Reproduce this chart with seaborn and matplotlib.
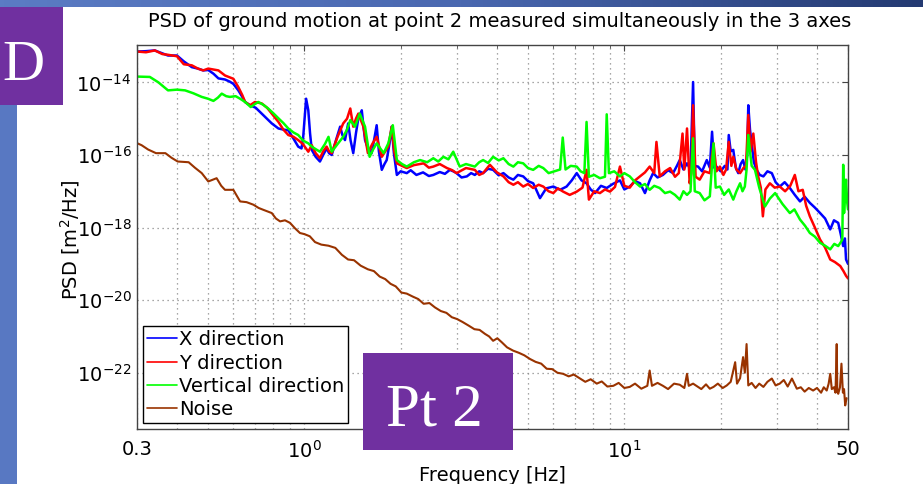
import numpy as np
import pandas as pd
import matplotlib
matplotlib.use("Agg")
import matplotlib.pyplot as plt
import matplotlib.ticker as mticker
from matplotlib.patches import Rectangle
from matplotlib.colors import LinearSegmentedColormap
from matplotlib.lines import Line2D
import seaborn as sns

# ---------------- data (frequency [Hz], log10 PSD [m^2/Hz]) ----------------
x_points = [(0.300,-13.15),(0.320,-13.14),(0.341,-13.12),(0.360,-13.20),(0.375,-13.26),(0.400,-13.26),(0.420,-13.42),(0.445,-13.58),(0.465,-13.62),(0.483,-13.67),(0.501,-13.66),(0.520,-13.76),(0.539,-13.89),(0.565,-13.92),(0.585,-13.98),(0.600,-14.04),(0.622,-14.22),(0.640,-14.40),(0.653,-14.54),(0.677,-14.63),(0.705,-14.70),(0.736,-14.86),(0.765,-15.00),(0.791,-15.13),(0.830,-15.27),(0.860,-15.30),(0.891,-15.32),(0.925,-15.55),(0.957,-15.77),(0.980,-15.82),(0.992,-15.50),(1.013,-14.45),(1.029,-14.77),(1.042,-15.40),(1.055,-15.86),(1.085,-16.05),(1.119,-16.18),(1.145,-16.00),(1.174,-15.82),(1.195,-15.95),(1.218,-16.00),(1.255,-15.60),(1.294,-15.22),(1.315,-15.45),(1.340,-15.59),(1.371,-15.13),(1.395,-15.60),(1.422,-15.95),(1.450,-15.40),(1.475,-14.99),(1.512,-14.77),(1.530,-15.20),(1.548,-15.59),(1.585,-15.85),(1.623,-15.95),(1.655,-15.55),(1.683,-15.18),(1.710,-15.90),(1.746,-16.41),(1.780,-16.25),(1.809,-16.14),(1.845,-15.70),(1.875,-15.22),(1.905,-15.95),(1.946,-16.55),(2.00,-16.45),(2.09,-16.50),(2.15,-16.42),(2.24,-16.55),(2.35,-16.48),(2.45,-16.58),(2.53,-16.55),(2.65,-16.47),(2.75,-16.52),(2.85,-16.41),(2.92,-16.45),(2.99,-16.50),(3.10,-16.62),(3.22,-16.59),(3.32,-16.50),(3.41,-16.55),(3.52,-16.45),(3.62,-16.50),(3.75,-16.38),(3.89,-16.41),(4.05,-16.56),(4.19,-16.50),(4.35,-16.62),(4.50,-16.68),(4.65,-16.55),(4.83,-16.59),(5.00,-16.72),(5.19,-16.78),(5.30,-16.95),(5.45,-17.19),(5.70,-16.92),(6.00,-16.87),(6.30,-16.96),(6.60,-16.87),(6.85,-16.70),(7.10,-16.50),(7.35,-16.70),(7.62,-16.78),(7.85,-16.95),(8.10,-17.05),(8.45,-16.85),(8.81,-16.91),(9.20,-16.80),(9.69,-16.70),(10.0,-16.95),(10.4,-16.87),(10.8,-16.72),(11.2,-16.78),(11.6,-17.05),(12.0,-16.70),(12.3,-16.50),(12.7,-16.62),(13.2,-16.55),(13.7,-16.42),(14.2,-16.50),(14.6,-16.30),(14.9,-16.14),(15.3,-16.40),(15.7,-16.23),(16.1,-16.40),(16.4,-13.99),(16.6,-16.30),(17.0,-16.32),(17.5,-16.45),(18.1,-16.14),(18.5,-16.35),(18.8,-15.36),(19.1,-16.35),(19.4,-16.32),(20.0,-16.45),(20.6,-16.30),(21.0,-16.40),(21.2,-15.45),(21.5,-15.90),(21.9,-15.86),(22.3,-16.35),(22.7,-16.50),(23.1,-16.25),(23.5,-16.14),(23.9,-16.40),(24.2,-16.00),(24.4,-14.63),(24.7,-15.30),(25.0,-15.68),(25.4,-16.20),(25.9,-16.41),(26.5,-16.55),(27.2,-16.59),(28.0,-16.45),(28.9,-16.50),(29.7,-16.75),(30.6,-16.87),(31.7,-16.75),(32.9,-16.91),(34.1,-17.10),(35.4,-17.28),(36.6,-17.15),(38.0,-17.32),(39.4,-17.45),(40.9,-17.60),(42.4,-17.75),(44.0,-18.05),(45.2,-17.80),(46.6,-17.87),(47.5,-18.20),(48.3,-18.51),(48.9,-18.30),(49.3,-18.88),(50.0,-19.00)]

y_points = [(0.300,-13.15),(0.320,-13.17),(0.341,-13.12),(0.360,-13.22),(0.375,-13.24),(0.400,-13.28),(0.420,-13.50),(0.445,-13.53),(0.465,-13.62),(0.483,-13.67),(0.501,-13.62),(0.539,-13.67),(0.565,-13.81),(0.600,-13.90),(0.622,-14.13),(0.640,-14.35),(0.653,-14.54),(0.677,-14.63),(0.701,-14.54),(0.736,-14.58),(0.765,-14.70),(0.791,-14.86),(0.830,-15.09),(0.860,-15.30),(0.891,-15.45),(0.925,-15.50),(0.957,-15.59),(0.990,-15.70),(1.029,-15.91),(1.055,-15.73),(1.085,-15.95),(1.119,-16.09),(1.145,-15.90),(1.174,-15.77),(1.195,-15.90),(1.218,-15.95),(1.270,-15.50),(1.323,-15.13),(1.360,-15.00),(1.392,-14.72),(1.422,-15.22),(1.450,-15.00),(1.475,-14.86),(1.530,-15.22),(1.580,-15.95),(1.630,-15.70),(1.683,-15.50),(1.746,-16.05),(1.790,-15.90),(1.830,-15.77),(1.875,-15.22),(1.910,-15.90),(1.946,-16.23),(2.02,-16.30),(2.09,-16.36),(2.20,-16.28),(2.36,-16.23),(2.45,-16.35),(2.53,-16.32),(2.65,-16.25),(2.79,-16.36),(2.90,-16.42),(2.99,-16.50),(3.20,-16.36),(3.41,-16.41),(3.52,-16.55),(3.62,-16.50),(3.80,-16.27),(4.00,-16.48),(4.19,-16.59),(4.35,-16.75),(4.50,-16.82),(4.65,-16.75),(4.83,-16.87),(5.00,-16.80),(5.19,-16.91),(5.40,-16.82),(5.58,-16.87),(5.80,-17.00),(6.00,-17.05),(6.20,-16.92),(6.44,-17.01),(6.75,-17.10),(7.10,-17.01),(7.40,-16.90),(7.62,-16.41),(7.75,-17.23),(8.05,-17.00),(8.39,-17.05),(8.70,-16.95),(9.02,-17.01),(9.35,-16.88),(9.69,-16.32),(10.0,-16.85),(10.4,-16.90),(10.8,-16.70),(11.2,-16.59),(11.6,-16.48),(12.0,-16.32),(12.4,-16.50),(12.6,-15.64),(12.9,-16.59),(13.4,-16.45),(13.9,-16.36),(14.4,-16.60),(14.8,-16.50),(15.2,-15.41),(15.4,-16.40),(15.7,-15.27),(16.0,-16.78),(16.2,-16.50),(16.4,-14.63),(16.7,-16.60),(17.2,-16.68),(17.8,-16.45),(18.5,-16.50),(19.0,-15.68),(19.4,-16.45),(19.9,-16.32),(20.4,-16.55),(20.8,-16.40),(21.2,-15.64),(21.6,-16.30),(21.9,-16.05),(22.4,-16.40),(23.0,-16.50),(23.6,-16.35),(24.0,-16.30),(24.4,-14.90),(24.8,-15.90),(25.3,-15.41),(25.8,-16.20),(26.2,-16.59),(26.7,-16.90),(27.1,-17.69),(27.6,-16.95),(28.5,-16.78),(29.5,-16.90),(30.6,-16.87),(31.8,-17.00),(33.0,-16.85),(34.1,-16.55),(35.0,-17.00),(36.1,-16.96),(37.0,-17.40),(38.0,-17.69),(39.4,-18.00),(40.9,-18.33),(42.4,-18.55),(44.0,-18.88),(45.5,-18.95),(47.3,-19.06),(48.4,-19.20),(49.3,-19.33),(50.0,-19.40)]

z_points = [(0.300,-13.84),(0.329,-13.85),(0.350,-14.00),(0.375,-14.22),(0.400,-14.20),(0.424,-14.22),(0.450,-14.30),(0.478,-14.40),(0.500,-14.45),(0.520,-14.51),(0.537,-14.42),(0.552,-14.31),(0.570,-14.38),(0.585,-14.40),(0.610,-14.38),(0.630,-14.45),(0.653,-14.54),(0.680,-14.68),(0.700,-14.60),(0.718,-14.54),(0.745,-14.62),(0.771,-14.72),(0.800,-14.85),(0.830,-14.99),(0.860,-15.12),(0.891,-15.27),(0.925,-15.38),(0.957,-15.45),(0.990,-15.60),(1.029,-15.68),(1.055,-15.77),(1.090,-15.85),(1.119,-15.91),(1.160,-15.70),(1.190,-15.50),(1.218,-15.91),(1.270,-15.70),(1.323,-15.50),(1.360,-15.30),(1.392,-15.04),(1.440,-15.22),(1.490,-14.86),(1.548,-15.22),(1.600,-16.05),(1.640,-15.85),(1.683,-15.68),(1.770,-15.95),(1.830,-15.68),(1.890,-15.18),(1.946,-16.14),(2.02,-16.25),(2.09,-16.32),(2.20,-16.20),(2.30,-16.14),(2.42,-16.20),(2.53,-16.09),(2.62,-16.18),(2.72,-16.05),(2.82,-16.12),(2.92,-15.91),(3.06,-16.32),(3.20,-16.25),(3.41,-16.32),(3.52,-16.20),(3.62,-16.14),(3.75,-16.22),(3.89,-16.05),(4.05,-16.15),(4.19,-16.09),(4.35,-16.25),(4.50,-16.32),(4.65,-16.20),(4.83,-16.23),(5.00,-16.36),(5.19,-16.41),(5.40,-16.30),(5.58,-16.36),(5.80,-16.50),(6.00,-16.46),(6.30,-16.40),(6.42,-15.52),(6.55,-16.40),(6.80,-16.30),(7.10,-16.32),(7.30,-16.45),(7.50,-16.50),(7.62,-15.09),(7.75,-16.60),(8.05,-16.55),(8.39,-16.64),(8.70,-16.60),(8.81,-14.88),(8.95,-16.50),(9.30,-16.45),(9.69,-16.59),(10.0,-16.50),(10.4,-16.59),(10.8,-16.75),(11.2,-16.87),(11.6,-16.80),(12.0,-16.96),(12.4,-16.85),(12.9,-16.91),(13.4,-17.05),(13.9,-17.01),(14.4,-17.10),(14.9,-17.23),(15.3,-17.00),(15.7,-17.10),(16.1,-17.00),(16.4,-15.54),(16.6,-17.00),(17.2,-17.05),(17.8,-17.25),(18.5,-17.14),(19.0,-15.68),(19.3,-16.90),(19.9,-16.87),(20.5,-17.10),(21.2,-16.95),(21.9,-17.23),(22.4,-17.00),(23.0,-16.78),(23.4,-17.00),(23.8,-16.87),(24.1,-16.40),(24.4,-15.45),(24.7,-15.90),(25.0,-16.30),(25.6,-16.41),(26.4,-16.90),(27.5,-17.42),(28.5,-17.20),(29.6,-17.05),(31.2,-17.35),(32.9,-17.60),(34.0,-17.50),(35.4,-17.78),(36.7,-17.95),(38.0,-18.15),(39.4,-18.25),(40.9,-18.42),(42.4,-18.50),(44.0,-18.60),(45.3,-18.45),(46.6,-18.51),(47.5,-18.40),(48.0,-18.33),(48.3,-16.27),(48.6,-17.60),(49.0,-17.00),(49.3,-16.68),(49.7,-17.30),(50.0,-17.50)]

noise_points = [(0.301,-15.68),(0.310,-15.73),(0.325,-15.85),(0.344,-15.95),(0.368,-15.95),(0.385,-16.08),(0.402,-16.18),(0.435,-16.20),(0.455,-16.35),(0.478,-16.50),(0.501,-16.73),(0.532,-16.64),(0.550,-16.85),(0.565,-16.96),(0.600,-16.96),(0.630,-17.28),(0.660,-17.30),(0.693,-17.37),(0.720,-17.46),(0.744,-17.51),(0.791,-17.60),(0.815,-17.75),(0.840,-17.83),(0.870,-17.80),(0.902,-17.87),(0.935,-18.02),(0.969,-18.15),(1.00,-18.18),(1.04,-18.24),(1.08,-18.40),(1.13,-18.47),(1.19,-18.50),(1.25,-18.56),(1.31,-18.75),(1.37,-18.88),(1.43,-18.90),(1.50,-19.05),(1.58,-19.15),(1.65,-19.20),(1.72,-19.35),(1.79,-19.42),(1.86,-19.55),(1.93,-19.62),(2.01,-19.79),(2.09,-19.82),(2.18,-19.90),(2.27,-19.97),(2.36,-20.10),(2.46,-20.08),(2.56,-20.20),(2.67,-20.30),(2.78,-20.35),(2.89,-20.47),(3.00,-20.52),(3.12,-20.60),(3.26,-20.70),(3.40,-20.80),(3.53,-20.82),(3.67,-20.93),(3.78,-21.00),(3.89,-21.12),(4.01,-21.05),(4.14,-21.16),(4.30,-21.30),(4.49,-21.39),(4.68,-21.45),(4.87,-21.52),(5.07,-21.62),(5.28,-21.70),(5.50,-21.75),(5.72,-21.89),(5.95,-21.90),(6.18,-22.00),(6.44,-22.03),(6.70,-22.10),(6.95,-22.05),(7.27,-22.16),(7.55,-22.25),(7.85,-22.18),(8.20,-22.30),(8.50,-22.24),(8.85,-22.38),(9.24,-22.36),(9.60,-22.28),(10.0,-22.42),(10.4,-22.39),(10.8,-22.30),(11.3,-22.44),(11.8,-22.36),(12.0,-21.94),(12.2,-22.36),(12.7,-22.28),(13.2,-22.36),(13.7,-22.45),(14.3,-22.30),(14.9,-22.33),(15.4,-22.42),(15.7,-22.03),(15.9,-22.36),(16.4,-22.30),(16.8,-22.36),(17.4,-22.45),(18.0,-22.32),(18.5,-22.44),(19.0,-22.39),(19.6,-22.30),(20.3,-22.42),(20.9,-22.35),(21.5,-22.25),(22.2,-21.71),(22.5,-22.30),(23.0,-22.15),(23.5,-21.57),(23.8,-22.00),(24.1,-21.21),(24.4,-22.35),(25.0,-22.28),(25.7,-22.42),(26.4,-22.30),(27.2,-22.39),(28.0,-22.25),(28.9,-22.16),(29.7,-22.35),(30.6,-22.30),(31.5,-22.20),(32.4,-22.38),(33.4,-22.16),(34.6,-22.44),(35.6,-22.40),(36.6,-22.52),(37.7,-22.42),(38.9,-22.49),(40.0,-22.42),(41.2,-22.55),(42.0,-22.40),(42.9,-22.49),(43.5,-22.30),(44.0,-22.03),(44.5,-22.45),(45.2,-22.40),(45.7,-22.55),(46.1,-21.21),(46.3,-22.50),(46.6,-22.58),(47.2,-22.40),(47.7,-21.75),(48.2,-22.55),(48.6,-22.45),(49.0,-22.90),(49.5,-22.70)]

series_names = ["X direction", "Y direction", "Vertical direction", "Noise"]
series_colors = ["#0000ff", "#ff0000", "#00ff00", "#993300"]
x_ticks = [0.3, 1, 10, 50]
x_ticklabels = ["0.3", r"$10^{0}$", r"$10^{1}$", "50"]
y_ticks = [1e-22, 1e-20, 1e-18, 1e-16, 1e-14]
y_ticklabels = [r"$10^{-22}$", r"$10^{-20}$", r"$10^{-18}$", r"$10^{-16}$", r"$10^{-14}$"]
x_minor = [0.4, 0.5, 0.6, 0.7, 0.8, 0.9, 2, 3, 4, 5, 6, 7, 8, 9, 20, 30, 40]
title = "PSD of ground motion at point 2 measured simultaneously in the 3 axes"

# ---------------- styling ----------------
sns.set_style("white")
plt.rcParams["font.family"] = ["DejaVu Sans"]
plt.rcParams["mathtext.fontset"] = "dejavusans"
plt.rcParams["text.color"] = "black"
plt.rcParams["axes.labelcolor"] = "black"

W, H = 923, 484
fig = plt.figure(figsize=(W / 100, H / 100), dpi=100)
fig.patch.set_facecolor("white")

def fx(px):
    return px / W

def fy(py):
    return 1 - py / H

ax = fig.add_axes([fx(137), fy(429), fx(848) - fx(137), fy(45) - fy(429)])
ax.set_xscale("log")
ax.set_yscale("log")

frames = []
for name, pts in zip(series_names, [x_points, y_points, z_points, noise_points]):
    arr = np.array(pts)
    frames.append(pd.DataFrame({"freq": arr[:, 0], "psd": 10.0 ** arr[:, 1], "series": name}))
df = pd.concat(frames, ignore_index=True)

widths = [1.8, 1.8, 1.8, 1.5]
for name, col, lw in zip(series_names, series_colors, widths):
    sub = df[df["series"] == name]
    sns.lineplot(data=sub, x="freq", y="psd", ax=ax, color=col, lw=lw,
                 estimator=None, sort=False, legend=False)

ax.set_xlim(0.3, 50)
ax.set_ylim(10 ** -23.55, 10 ** -12.97)
ax.xaxis.set_major_locator(mticker.FixedLocator(x_ticks))
ax.xaxis.set_major_formatter(mticker.FixedFormatter(x_ticklabels))
ax.xaxis.set_minor_locator(mticker.FixedLocator(x_minor))
ax.xaxis.set_minor_formatter(mticker.NullFormatter())
ax.yaxis.set_major_locator(mticker.FixedLocator(y_ticks))
ax.yaxis.set_major_formatter(mticker.FixedFormatter(y_ticklabels))
ax.yaxis.set_minor_locator(mticker.NullLocator())
ax.set_xlabel("")
ax.set_ylabel("")

spine_col = "#444444"
for s in ax.spines.values():
    s.set_color(spine_col)
    s.set_linewidth(1.0)
ax.tick_params(which="both", direction="in", top=True, right=True, color=spine_col,
               labelsize=14, labelcolor="black")
ax.tick_params(which="major", length=4)
ax.tick_params(which="minor", length=2.5)
ax.tick_params(axis="x", pad=8)
ax.tick_params(axis="y", pad=4)

grid_kw = dict(color="#8a8a8a", linestyle=(0, (1, 3)), linewidth=0.9)
ax.grid(True, which="both", axis="x", **grid_kw)
ax.grid(True, which="major", axis="y", **grid_kw)

handles = [Line2D([0], [0], color=c, lw=1.2) for c in series_colors]
leg = ax.legend(handles, series_names, loc="lower left",
                bbox_to_anchor=((143 - 137) / (848 - 137), 0.0156),
                borderaxespad=0, frameon=True, fancybox=False, framealpha=1,
                edgecolor="black", fontsize=14, handlelength=1.55, handletextpad=0.1,
                labelspacing=0.22, borderpad=0.2)
leg.get_frame().set_linewidth(1.0)
leg.set_zorder(5)
for t in leg.get_texts():
    t.set_color("black")

fig.text(fx(499.5), fy(27), title, ha="center", va="baseline", fontsize=14, color="black")
fig.text(fx(70), fy(240), r"PSD [m$^2$/Hz]", rotation=90, ha="center", va="center",
         fontsize=14, color="black")
fig.text(fx(492), fy(466), "Frequency [Hz]", ha="center", va="top", fontsize=14, color="black")

# ---------------- slide decorations ----------------
cmap = LinearSegmentedColormap.from_list("bar", ["#5b7cc4", "#4a68b0", "#243a72"])
bar_ax = fig.add_axes([0, fy(7), 1, 7 / H], zorder=20)
bar_ax.imshow(np.linspace(0, 1, 256)[None, :], aspect="auto", cmap=cmap)
bar_ax.set_axis_off()

fig.add_artist(Rectangle((0, 0), fx(17), 1, transform=fig.transFigure,
                         facecolor="#5878c2", edgecolor="none", zorder=15))
fig.add_artist(Rectangle((0, fy(105)), fx(63), fy(7) - fy(105), transform=fig.transFigure,
                         facecolor="#7030a0", edgecolor="none", zorder=16))
fig.text(fx(2), fy(80), "D", ha="left", va="baseline", color="white",
         fontsize=42, family=["Liberation Serif", "DejaVu Serif"], zorder=17)

fig.add_artist(Rectangle((fx(363), fy(450)), fx(513) - fx(363), fy(353) - fy(450),
                         transform=fig.transFigure, facecolor="#7030a0",
                         edgecolor="none", zorder=16))
fig.text(fx(434), fy(425), "Pt 2", ha="center", va="baseline", color="white",
         fontsize=44, family=["Liberation Serif", "DejaVu Serif"], zorder=17)

fig.savefig("out.png", dpi=100, facecolor="white")
